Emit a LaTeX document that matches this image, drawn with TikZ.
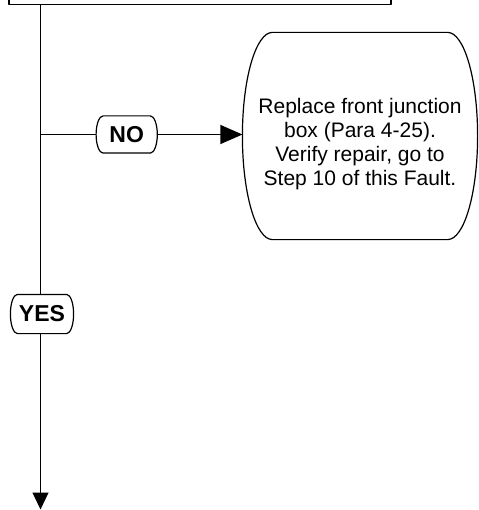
\documentclass[tikz,border=0pt]{standalone}
\usepackage{fontspec}
\setmainfont{Liberation Sans}
\usetikzlibrary{arrows.meta,calc}
\newcommand\ellboxoutline[2]{%
  \draw let \p1=(#1.north), \p2=(#1.south), \n1={(\y1-\y2)/2} in
    ([xshift=#2]#1.north west) arc[start angle=90,end angle=270,x radius=#2,y radius=\n1]
    -- ([xshift=-#2]#1.south east) arc[start angle=-90,end angle=90,x radius=#2,y radius=\n1]
    -- cycle;}
\begin{document}
\begin{tikzpicture}[line width=1.2pt, line join=round,
  lbl/.style={draw=none, inner sep=0pt, font=\fontsize{23}{26}\selectfont\bfseries},
  shapebox/.style={draw=none, inner sep=0pt},
  arrh/.style={-{Triangle[length=22pt,width=19pt]}},
  arrv/.style={-{Triangle[length=17pt,width=16pt]}},
  ]
\useasboundingbox (0,0) rectangle (478pt,-510pt);
% previous step box (cut off at top)
\node[draw, minimum width=382pt, minimum height=60pt, inner sep=0pt] (prev) at (200pt,25.7pt) {};
\coordinate (s0) at (40.5pt,-4.3pt);
\coordinate (j) at (40.5pt,-134.5pt);
\coordinate (send) at (40.5pt,-509.5pt);
% labels
\node[lbl, minimum width=60pt, minimum height=36pt] (no) at (126.7pt,-134.5pt) {NO};
\ellboxoutline{no}{7pt}
\node[lbl, minimum width=62pt, minimum height=38pt] (yes) at (42pt,-314pt) {YES};
\ellboxoutline{yes}{7pt}
% terminal
\node[shapebox, minimum width=234pt, minimum height=206pt] (term) at (360pt,-136pt) {};
\ellboxoutline{term}{30pt}
\node[align=center, inner sep=0pt, anchor=north, font=\fontsize{21}{24}\selectfont] (termtext) at (360pt,-97.5pt)
  {Replace front junction\\box (Para 4-25).\\Verify repair, go to\\Step 10 of this Fault.};
% connectors
\draw (s0) -- (j) -- (yes.north -| s0);
\draw[arrv] (yes.south -| s0) -- (send);
\draw (j) -- (no.west);
\draw[arrh] (no.east) -- (no.east -| term.west);
\end{tikzpicture}
\end{document}
